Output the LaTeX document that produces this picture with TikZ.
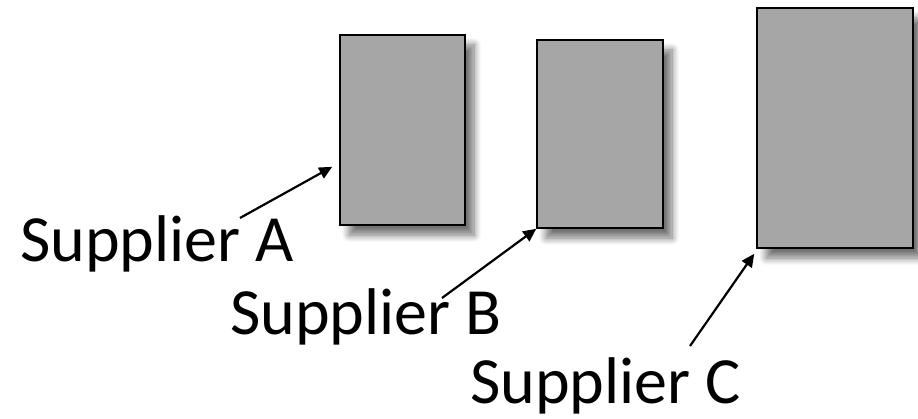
\documentclass[tikz,border=0pt]{standalone}
\usepackage{fontspec}
\setmainfont{Carlito}
\usetikzlibrary{shadows.blur,arrows.meta}
\begin{document}
\begin{tikzpicture}[x=1pt,y=-1pt,
  box/.style={draw=black,line width=1.6pt,fill=boxgrey,minimum width=#1,inner sep=0pt,
    blur shadow={shadow xshift=9pt,shadow yshift=-10pt,shadow blur steps=10,shadow opacity=55,shadow blur radius=7pt}},
  lbl/.style={anchor=base west,inner sep=0pt,font=\fontsize{66}{70}\selectfont},
  arr/.style={line width=2.2pt,-{Triangle[length=13pt,width=12pt]}}]
\definecolor{boxgrey}{HTML}{A6A6A6}
\useasboundingbox (0,0) rectangle (918,419);
\node[box=125pt,minimum height=190pt] (a) at (402.5,130) {};
\node[box=126pt,minimum height=188pt] (b) at (600,134) {};
\node[box=156pt,minimum height=240pt] (c) at (835,128) {};
\node[lbl] (la) at (20,262) {Supplier A};
\node[lbl] (lb) at (230,335) {Supplier B};
\node[lbl] (lc) at (470,403) {Supplier C};
\coordinate (ta) at (240,218);
\coordinate (tb) at (442,298);
\coordinate (tc) at (690,346);
\draw[arr] (ta) -- ([shift={(-7pt,59pt)}]a.south west);
\draw[arr] (tb) -- (b.south west);
\draw[arr] (tc) -- ([shift={(-2pt,-5pt)}]c.south west);
\end{tikzpicture}
\end{document}
